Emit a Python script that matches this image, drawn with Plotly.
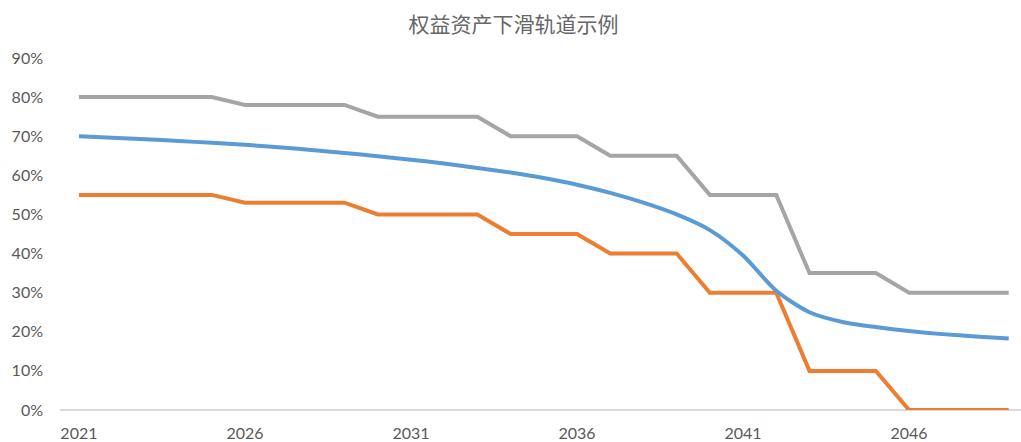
import plotly.graph_objects as go

years = list(range(2021, 2050))
upper = [80, 80, 80, 80, 80, 78, 78, 78, 78, 75, 75, 75, 75, 70, 70, 70, 65, 65, 65,
         55, 55, 55, 35, 35, 35, 30, 30, 30, 30]
lower = [55, 55, 55, 55, 55, 53, 53, 53, 53, 50, 50, 50, 50, 45, 45, 45, 40, 40, 40,
         30, 30, 30, 10, 10, 10, 0, 0, 0, 0]
glide = [70, 69.6, 69.2, 68.8, 68.3, 67.8, 67.2, 66.5, 65.7, 64.9, 64.0, 63.0, 61.9,
         60.7, 59.3, 57.6, 55.5, 53.0, 50.0, 46.0, 39.5, 30.5, 25.0, 22.5, 21.2,
         20.2, 19.4, 18.8, 18.3]
x_ticks = [2021, 2026, 2031, 2036, 2041, 2046]
y_ticks = [0, 10, 20, 30, 40, 50, 60, 70, 80, 90]

fig = go.Figure()
fig.add_trace(go.Scatter(x=years, y=upper, mode="lines", cliponaxis=False,
                         line=dict(color="#A5A5A5", width=4), name="上限"))
fig.add_trace(go.Scatter(x=years, y=lower, mode="lines", cliponaxis=False,
                         line=dict(color="#ED7D31", width=4), name="下限"))
fig.add_trace(go.Scatter(x=years, y=glide, mode="lines", cliponaxis=False,
                         line=dict(color="#5B9BD5", width=4, shape="spline", smoothing=0.8),
                         name="下滑轨道"))

fig.update_layout(
    width=1021, height=442,
    margin=dict(l=60, r=0, t=58, b=29),
    paper_bgcolor="white", plot_bgcolor="white",
    showlegend=False,
    title=dict(text="权益资产下滑轨道示例", x=0.503, xanchor="center", y=0.945, yanchor="middle",
               font=dict(family="Noto Sans CJK SC", size=21, color="#666666")),
    font=dict(family="Lato", size=16, color="#595959"),
)
fig.update_xaxes(range=[2020.43, 2049.37], tickvals=x_ticks, ticktext=[str(v) for v in x_ticks],
                 showgrid=False, zeroline=False, showline=False, ticks="",
                 ticklabelstandoff=12, tickfont=dict(family="Lato", size=16, color="#595959"))
fig.update_yaxes(range=[0, 90], tickvals=y_ticks, ticktext=[f"{v}%" for v in y_ticks],
                 showgrid=False, zeroline=True, zerolinecolor="#D9D9D9", zerolinewidth=1.5,
                 showline=False, ticks="", ticklabelstandoff=16,
                 tickfont=dict(family="Lato", size=16, color="#595959"))

fig.write_html("out.html", config={"displayModeBar": False},
               post_script="document.body.style.margin='0';document.body.style.overflow='hidden';")
